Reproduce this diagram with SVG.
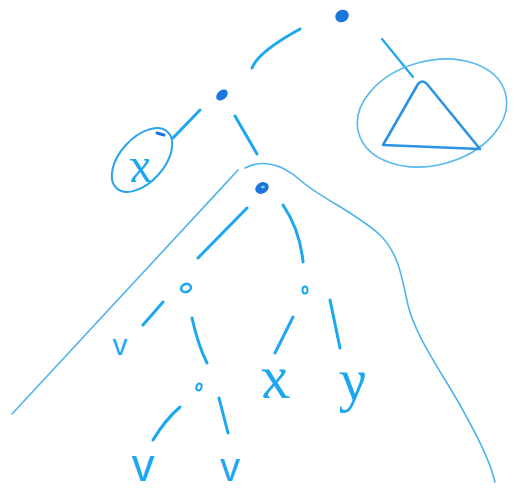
<svg xmlns="http://www.w3.org/2000/svg" width="517" height="491" viewBox="0 0 517 491">
<style>
.c{fill:none;stroke:#1ea7f1;stroke-width:3;stroke-linecap:round;stroke-linejoin:round}
.thin{fill:none;stroke:#4fb4ec;stroke-width:1.6;stroke-linecap:round}
.dot{fill:#1b76dc}
.od{fill:none;stroke:#1ea7f1;stroke-width:2.6}
.t{font-family:"Liberation Serif",serif;font-style:italic;fill:#1ea7f1;text-anchor:middle}
.v{font-family:"Liberation Sans",sans-serif;fill:#1ea7f1;text-anchor:middle}
</style>
<rect width="517" height="491" fill="#ffffff"/>
<g id="outline">
<path class="thin" d="M12,414 C80,340 160,255 238,170"/>
<path class="thin" d="M245,168 C260,160 280,162 300,180 C320,198 355,212 380,235 C400,255 402,280 408,305 C415,335 440,370 460,405 C475,432 490,460 495,482"/>
</g>
<g id="connectors">
<path class="c" d="M252,68 Q258,52 300,29"/>
<path class="c" style="stroke-width:2.2" d="M382,39 L413,77"/>
<path class="c" d="M200,110 L173,138"/>
<path class="c" d="M235,116 L257,154"/>
<path class="c" d="M247,208 L198,258"/>
<path class="c" d="M283,205 Q300,230 303,262"/>
<path class="c" d="M163,302 L143,325"/>
<path class="c" d="M192,318 Q198,345 207,363"/>
<path class="c" d="M293,317 L275,353"/>
<path class="c" d="M330,300 L340,348"/>
<path class="c" d="M180,407 Q165,420 153,440"/>
<path class="c" d="M219,398 L228,433"/>
</g>
<g id="n1"><ellipse class="dot" cx="342" cy="16" rx="7" ry="6" transform="rotate(-30 342 16)"/></g>
<g id="n2"><ellipse class="dot" cx="222" cy="95" rx="6.5" ry="4.5" transform="rotate(-40 222 95)"/></g>
<g id="n3"><ellipse class="dot" cx="262" cy="188" rx="7" ry="5.5" transform="rotate(-30 262 188)"/><ellipse cx="263" cy="187" rx="1.8" ry="1.2" fill="#8fd0f5"/></g>
<g id="n4"><ellipse class="od" cx="186" cy="288" rx="5" ry="4" transform="rotate(-20 186 288)"/></g>
<g id="n5"><ellipse class="od" style="stroke-width:2" cx="305" cy="290" rx="2.5" ry="3.5"/></g>
<g id="n6"><ellipse class="od" style="stroke-width:2" cx="199" cy="387" rx="2.5" ry="3.5" transform="rotate(20 199 387)"/></g>
<g id="leaf-x-circled">
<ellipse class="thin" style="stroke:#2aa3ee;stroke-width:2" cx="142" cy="160" rx="38" ry="22" transform="rotate(-48 142 160)"/>
<path d="M157,133 L164,135" stroke="#1b76dc" stroke-width="3" stroke-linecap="round"/>
<text class="t" transform="translate(143 182) skewX(12)" font-size="50">x</text>
</g>
<g id="triangle-leaf">
<ellipse class="thin" style="stroke:#5bbaec" cx="432" cy="113" rx="76" ry="52" transform="rotate(-15 432 113)"/>
<path class="c" style="stroke:#2c93e2;stroke-width:2.6" d="M383,145 L418,84 Q422,79 427,84 L480,149 Z"/>
</g>
<g id="leaf-v1"><text class="v" x="120" y="355" font-size="30">v</text></g>
<g id="leaf-x"><text class="t" transform="translate(278 398) skewX(12)" font-size="62">x</text></g>
<g id="leaf-y"><text class="t" transform="translate(356 400) skewX(10)" font-size="60">y</text></g>
<g id="leaf-v2"><text class="v" x="143" y="481" font-size="46">v</text></g>
<g id="leaf-v3"><text class="v" x="230" y="481" font-size="40">v</text></g>
</svg>
